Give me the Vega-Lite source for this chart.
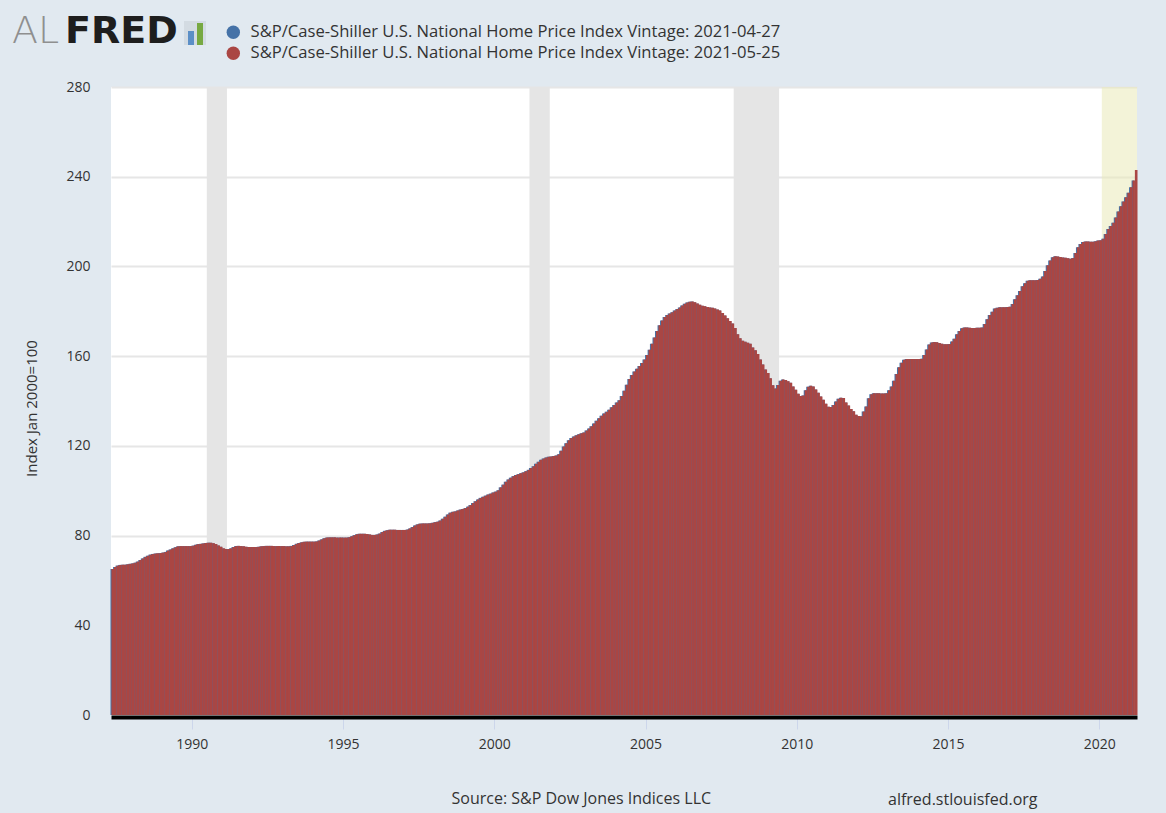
{
  "$schema": "https://vega.github.io/schema/vega-lite/v6.json",
  "width": 1026,
  "height": 628,
  "autosize": "none",
  "padding": {"left": 111, "top": 87, "right": 29, "bottom": 98},
  "background": "#e1e9f0",
  "view": {"fill": "#ffffff", "stroke": null},
  "config": {"font": "Open Sans"},
  "datasets": {
    "rec": [
      {"start": "1990-07-01", "end": "1991-03-01"},
      {"start": "2001-03-01", "end": "2001-11-01"},
      {"start": "2007-12-01", "end": "2009-06-01"}
    ],
    "cur": [{"start": "2020-02-01", "end": "2021-04-01"}],
    "hpi": [
      {"date":"1987-05-01","a":65.1,"b":65.1},{"date":"1987-06-01","a":66.0,"b":66.0},{"date":"1987-07-01","a":66.6,"b":66.6},{"date":"1987-08-01","a":66.9,"b":66.9},{"date":"1987-09-01","a":67.0,"b":67.0},{"date":"1987-10-01","a":67.0,"b":67.0},{"date":"1987-11-01","a":67.2,"b":67.2},{"date":"1987-12-01","a":67.4,"b":67.4},
      {"date":"1988-01-01","a":67.6,"b":67.6},{"date":"1988-02-01","a":67.9,"b":67.9},{"date":"1988-03-01","a":68.4,"b":68.4},{"date":"1988-04-01","a":69.1,"b":69.1},{"date":"1988-05-01","a":69.8,"b":69.8},{"date":"1988-06-01","a":70.5,"b":70.5},{"date":"1988-07-01","a":71.0,"b":71.0},{"date":"1988-08-01","a":71.5,"b":71.5},{"date":"1988-09-01","a":71.8,"b":71.8},{"date":"1988-10-01","a":72.0,"b":72.0},{"date":"1988-11-01","a":72.1,"b":72.1},{"date":"1988-12-01","a":72.2,"b":72.2},
      {"date":"1989-01-01","a":72.4,"b":72.4},{"date":"1989-02-01","a":72.7,"b":72.7},{"date":"1989-03-01","a":73.3,"b":73.3},{"date":"1989-04-01","a":73.8,"b":73.8},{"date":"1989-05-01","a":74.3,"b":74.3},{"date":"1989-06-01","a":74.8,"b":74.8},{"date":"1989-07-01","a":75.2,"b":75.2},{"date":"1989-08-01","a":75.3,"b":75.3},{"date":"1989-09-01","a":75.3,"b":75.3},{"date":"1989-10-01","a":75.3,"b":75.3},{"date":"1989-11-01","a":75.3,"b":75.3},{"date":"1989-12-01","a":75.3,"b":75.3},
      {"date":"1990-01-01","a":75.5,"b":75.5},{"date":"1990-02-01","a":75.9,"b":75.9},{"date":"1990-03-01","a":76.2,"b":76.2},{"date":"1990-04-01","a":76.3,"b":76.3},{"date":"1990-05-01","a":76.5,"b":76.5},{"date":"1990-06-01","a":76.7,"b":76.7},{"date":"1990-07-01","a":76.8,"b":76.8},{"date":"1990-08-01","a":76.8,"b":76.8},{"date":"1990-09-01","a":76.6,"b":76.6},{"date":"1990-10-01","a":76.2,"b":76.2},{"date":"1990-11-01","a":75.6,"b":75.6},{"date":"1990-12-01","a":75.0,"b":75.0},
      {"date":"1991-01-01","a":74.3,"b":74.3},{"date":"1991-02-01","a":74.0,"b":74.0},{"date":"1991-03-01","a":74.0,"b":74.0},{"date":"1991-04-01","a":74.3,"b":74.3},{"date":"1991-05-01","a":74.9,"b":74.9},{"date":"1991-06-01","a":75.3,"b":75.3},{"date":"1991-07-01","a":75.4,"b":75.4},{"date":"1991-08-01","a":75.3,"b":75.3},{"date":"1991-09-01","a":75.2,"b":75.2},{"date":"1991-10-01","a":75.0,"b":75.0},{"date":"1991-11-01","a":74.9,"b":74.9},{"date":"1991-12-01","a":74.9,"b":74.9},
      {"date":"1992-01-01","a":74.9,"b":74.9},{"date":"1992-02-01","a":74.9,"b":74.9},{"date":"1992-03-01","a":75.0,"b":75.0},{"date":"1992-04-01","a":75.2,"b":75.2},{"date":"1992-05-01","a":75.3,"b":75.3},{"date":"1992-06-01","a":75.4,"b":75.4},{"date":"1992-07-01","a":75.4,"b":75.4},{"date":"1992-08-01","a":75.4,"b":75.4},{"date":"1992-09-01","a":75.3,"b":75.3},{"date":"1992-10-01","a":75.3,"b":75.3},{"date":"1992-11-01","a":75.3,"b":75.3},{"date":"1992-12-01","a":75.3,"b":75.3},
      {"date":"1993-01-01","a":75.3,"b":75.3},{"date":"1993-02-01","a":75.2,"b":75.2},{"date":"1993-03-01","a":75.2,"b":75.2},{"date":"1993-04-01","a":75.4,"b":75.4},{"date":"1993-05-01","a":75.8,"b":75.8},{"date":"1993-06-01","a":76.3,"b":76.3},{"date":"1993-07-01","a":76.7,"b":76.7},{"date":"1993-08-01","a":77.0,"b":77.0},{"date":"1993-09-01","a":77.2,"b":77.2},{"date":"1993-10-01","a":77.3,"b":77.3},{"date":"1993-11-01","a":77.3,"b":77.3},{"date":"1993-12-01","a":77.3,"b":77.3},
      {"date":"1994-01-01","a":77.3,"b":77.3},{"date":"1994-02-01","a":77.4,"b":77.4},{"date":"1994-03-01","a":77.8,"b":77.8},{"date":"1994-04-01","a":78.3,"b":78.3},{"date":"1994-05-01","a":78.8,"b":78.8},{"date":"1994-06-01","a":79.1,"b":79.1},{"date":"1994-07-01","a":79.2,"b":79.2},{"date":"1994-08-01","a":79.2,"b":79.2},{"date":"1994-09-01","a":79.2,"b":79.2},{"date":"1994-10-01","a":79.1,"b":79.1},{"date":"1994-11-01","a":79.1,"b":79.1},{"date":"1994-12-01","a":79.1,"b":79.1},
      {"date":"1995-01-01","a":79.1,"b":79.1},{"date":"1995-02-01","a":79.1,"b":79.1},{"date":"1995-03-01","a":79.3,"b":79.3},{"date":"1995-04-01","a":79.7,"b":79.7},{"date":"1995-05-01","a":80.2,"b":80.2},{"date":"1995-06-01","a":80.6,"b":80.6},{"date":"1995-07-01","a":80.8,"b":80.8},{"date":"1995-08-01","a":80.8,"b":80.8},{"date":"1995-09-01","a":80.8,"b":80.8},{"date":"1995-10-01","a":80.7,"b":80.7},{"date":"1995-11-01","a":80.5,"b":80.5},{"date":"1995-12-01","a":80.3,"b":80.3},
      {"date":"1996-01-01","a":80.3,"b":80.3},{"date":"1996-02-01","a":80.5,"b":80.5},{"date":"1996-03-01","a":80.9,"b":80.9},{"date":"1996-04-01","a":81.6,"b":81.6},{"date":"1996-05-01","a":82.1,"b":82.1},{"date":"1996-06-01","a":82.4,"b":82.4},{"date":"1996-07-01","a":82.6,"b":82.6},{"date":"1996-08-01","a":82.6,"b":82.6},{"date":"1996-09-01","a":82.6,"b":82.6},{"date":"1996-10-01","a":82.5,"b":82.5},{"date":"1996-11-01","a":82.5,"b":82.5},{"date":"1996-12-01","a":82.5,"b":82.5},
      {"date":"1997-01-01","a":82.5,"b":82.5},{"date":"1997-02-01","a":82.7,"b":82.7},{"date":"1997-03-01","a":83.2,"b":83.2},{"date":"1997-04-01","a":83.8,"b":83.8},{"date":"1997-05-01","a":84.5,"b":84.5},{"date":"1997-06-01","a":85.0,"b":85.0},{"date":"1997-07-01","a":85.3,"b":85.3},{"date":"1997-08-01","a":85.4,"b":85.4},{"date":"1997-09-01","a":85.4,"b":85.4},{"date":"1997-10-01","a":85.4,"b":85.4},{"date":"1997-11-01","a":85.5,"b":85.5},{"date":"1997-12-01","a":85.7,"b":85.7},
      {"date":"1998-01-01","a":86.0,"b":86.0},{"date":"1998-02-01","a":86.2,"b":86.2},{"date":"1998-03-01","a":86.7,"b":86.7},{"date":"1998-04-01","a":87.5,"b":87.5},{"date":"1998-05-01","a":88.4,"b":88.4},{"date":"1998-06-01","a":89.4,"b":89.4},{"date":"1998-07-01","a":90.2,"b":90.2},{"date":"1998-08-01","a":90.6,"b":90.6},{"date":"1998-09-01","a":90.8,"b":90.8},{"date":"1998-10-01","a":91.2,"b":91.2},{"date":"1998-11-01","a":91.6,"b":91.6},{"date":"1998-12-01","a":91.9,"b":91.9},
      {"date":"1999-01-01","a":92.3,"b":92.3},{"date":"1999-02-01","a":92.9,"b":92.9},{"date":"1999-03-01","a":93.6,"b":93.6},{"date":"1999-04-01","a":94.5,"b":94.5},{"date":"1999-05-01","a":95.3,"b":95.3},{"date":"1999-06-01","a":96.1,"b":96.1},{"date":"1999-07-01","a":96.8,"b":96.8},{"date":"1999-08-01","a":97.3,"b":97.3},{"date":"1999-09-01","a":97.8,"b":97.8},{"date":"1999-10-01","a":98.3,"b":98.3},{"date":"1999-11-01","a":98.7,"b":98.7},{"date":"1999-12-01","a":99.2,"b":99.2},
      {"date":"2000-01-01","a":99.6,"b":99.6},{"date":"2000-02-01","a":100.2,"b":100.2},{"date":"2000-03-01","a":101.5,"b":101.5},{"date":"2000-04-01","a":102.7,"b":102.7},{"date":"2000-05-01","a":104.0,"b":104.0},{"date":"2000-06-01","a":105.0,"b":105.0},{"date":"2000-07-01","a":105.8,"b":105.8},{"date":"2000-08-01","a":106.5,"b":106.5},{"date":"2000-09-01","a":107.0,"b":107.0},{"date":"2000-10-01","a":107.4,"b":107.4},{"date":"2000-11-01","a":107.8,"b":107.8},{"date":"2000-12-01","a":108.2,"b":108.2},
      {"date":"2001-01-01","a":108.7,"b":108.7},{"date":"2001-02-01","a":109.3,"b":109.3},{"date":"2001-03-01","a":110.1,"b":110.1},{"date":"2001-04-01","a":110.9,"b":110.9},{"date":"2001-05-01","a":112.0,"b":112.0},{"date":"2001-06-01","a":112.9,"b":112.9},{"date":"2001-07-01","a":113.8,"b":113.8},{"date":"2001-08-01","a":114.4,"b":114.4},{"date":"2001-09-01","a":114.8,"b":114.8},{"date":"2001-10-01","a":115.1,"b":115.1},{"date":"2001-11-01","a":115.3,"b":115.3},{"date":"2001-12-01","a":115.5,"b":115.5},
      {"date":"2002-01-01","a":115.7,"b":115.7},{"date":"2002-02-01","a":116.3,"b":116.3},{"date":"2002-03-01","a":117.8,"b":117.8},{"date":"2002-04-01","a":119.7,"b":119.7},{"date":"2002-05-01","a":121.2,"b":121.2},{"date":"2002-06-01","a":122.5,"b":122.5},{"date":"2002-07-01","a":123.5,"b":123.5},{"date":"2002-08-01","a":124.2,"b":124.2},{"date":"2002-09-01","a":124.7,"b":124.7},{"date":"2002-10-01","a":125.2,"b":125.2},{"date":"2002-11-01","a":125.6,"b":125.6},{"date":"2002-12-01","a":126.0,"b":126.0},
      {"date":"2003-01-01","a":126.8,"b":126.8},{"date":"2003-02-01","a":127.7,"b":127.7},{"date":"2003-03-01","a":128.7,"b":128.7},{"date":"2003-04-01","a":130.0,"b":130.0},{"date":"2003-05-01","a":131.2,"b":131.2},{"date":"2003-06-01","a":132.3,"b":132.3},{"date":"2003-07-01","a":133.4,"b":133.4},{"date":"2003-08-01","a":134.4,"b":134.4},{"date":"2003-09-01","a":135.2,"b":135.2},{"date":"2003-10-01","a":136.1,"b":136.1},{"date":"2003-11-01","a":137.2,"b":137.2},{"date":"2003-12-01","a":138.2,"b":138.2},
      {"date":"2004-01-01","a":139.3,"b":139.3},{"date":"2004-02-01","a":140.3,"b":140.3},{"date":"2004-03-01","a":142.2,"b":142.2},{"date":"2004-04-01","a":144.6,"b":144.6},{"date":"2004-05-01","a":147.3,"b":147.3},{"date":"2004-06-01","a":149.8,"b":149.8},{"date":"2004-07-01","a":151.6,"b":151.6},{"date":"2004-08-01","a":153.1,"b":153.1},{"date":"2004-09-01","a":154.4,"b":154.4},{"date":"2004-10-01","a":155.6,"b":155.6},{"date":"2004-11-01","a":156.9,"b":156.9},{"date":"2004-12-01","a":158.5,"b":158.5},
      {"date":"2005-01-01","a":160.5,"b":160.5},{"date":"2005-02-01","a":162.8,"b":162.8},{"date":"2005-03-01","a":165.5,"b":165.5},{"date":"2005-04-01","a":168.3,"b":168.3},{"date":"2005-05-01","a":171.2,"b":171.2},{"date":"2005-06-01","a":173.8,"b":173.8},{"date":"2005-07-01","a":175.9,"b":175.9},{"date":"2005-08-01","a":177.4,"b":177.4},{"date":"2005-09-01","a":178.3,"b":178.3},{"date":"2005-10-01","a":179.0,"b":179.0},{"date":"2005-11-01","a":179.6,"b":179.6},{"date":"2005-12-01","a":180.3,"b":180.3},
      {"date":"2006-01-01","a":181.0,"b":181.0},{"date":"2006-02-01","a":181.7,"b":181.7},{"date":"2006-03-01","a":182.6,"b":182.6},{"date":"2006-04-01","a":183.4,"b":183.4},{"date":"2006-05-01","a":183.9,"b":183.9},{"date":"2006-06-01","a":184.3,"b":184.3},{"date":"2006-07-01","a":184.4,"b":184.4},{"date":"2006-08-01","a":184.0,"b":184.0},{"date":"2006-09-01","a":183.5,"b":183.5},{"date":"2006-10-01","a":182.9,"b":182.9},{"date":"2006-11-01","a":182.5,"b":182.5},{"date":"2006-12-01","a":182.2,"b":182.2},
      {"date":"2007-01-01","a":181.9,"b":181.9},{"date":"2007-02-01","a":181.7,"b":181.7},{"date":"2007-03-01","a":181.6,"b":181.6},{"date":"2007-04-01","a":181.2,"b":181.2},{"date":"2007-05-01","a":180.8,"b":180.8},{"date":"2007-06-01","a":180.3,"b":180.3},{"date":"2007-07-01","a":179.2,"b":179.2},{"date":"2007-08-01","a":178.1,"b":178.1},{"date":"2007-09-01","a":176.9,"b":176.9},{"date":"2007-10-01","a":175.7,"b":175.7},{"date":"2007-11-01","a":174.5,"b":174.5},{"date":"2007-12-01","a":172.6,"b":172.6},
      {"date":"2008-01-01","a":169.8,"b":169.8},{"date":"2008-02-01","a":168.0,"b":168.0},{"date":"2008-03-01","a":166.9,"b":166.9},{"date":"2008-04-01","a":166.4,"b":166.4},{"date":"2008-05-01","a":166.0,"b":166.0},{"date":"2008-06-01","a":165.5,"b":165.5},{"date":"2008-07-01","a":163.9,"b":163.9},{"date":"2008-08-01","a":162.6,"b":162.6},{"date":"2008-09-01","a":161.0,"b":161.0},{"date":"2008-10-01","a":158.5,"b":158.5},{"date":"2008-11-01","a":156.3,"b":156.3},{"date":"2008-12-01","a":154.0,"b":154.0},
      {"date":"2009-01-01","a":152.5,"b":152.5},{"date":"2009-02-01","a":150.1,"b":150.1},{"date":"2009-03-01","a":147.0,"b":147.0},{"date":"2009-04-01","a":145.6,"b":145.6},{"date":"2009-05-01","a":147.1,"b":147.1},{"date":"2009-06-01","a":149.0,"b":149.0},{"date":"2009-07-01","a":149.6,"b":149.6},{"date":"2009-08-01","a":149.4,"b":149.4},{"date":"2009-09-01","a":148.8,"b":148.8},{"date":"2009-10-01","a":148.1,"b":148.1},{"date":"2009-11-01","a":146.5,"b":146.5},{"date":"2009-12-01","a":145.0,"b":145.0},
      {"date":"2010-01-01","a":143.2,"b":143.2},{"date":"2010-02-01","a":142.2,"b":142.2},{"date":"2010-03-01","a":142.4,"b":142.4},{"date":"2010-04-01","a":144.8,"b":144.8},{"date":"2010-05-01","a":146.4,"b":146.4},{"date":"2010-06-01","a":146.8,"b":146.8},{"date":"2010-07-01","a":146.5,"b":146.5},{"date":"2010-08-01","a":145.1,"b":145.1},{"date":"2010-09-01","a":143.7,"b":143.7},{"date":"2010-10-01","a":142.0,"b":142.0},{"date":"2010-11-01","a":140.6,"b":140.6},{"date":"2010-12-01","a":138.8,"b":138.8},
      {"date":"2011-01-01","a":137.4,"b":137.4},{"date":"2011-02-01","a":137.3,"b":137.3},{"date":"2011-03-01","a":138.2,"b":138.2},{"date":"2011-04-01","a":139.8,"b":139.8},{"date":"2011-05-01","a":141.0,"b":141.0},{"date":"2011-06-01","a":141.5,"b":141.5},{"date":"2011-07-01","a":141.3,"b":141.3},{"date":"2011-08-01","a":139.3,"b":139.3},{"date":"2011-09-01","a":138.0,"b":138.0},{"date":"2011-10-01","a":136.4,"b":136.4},{"date":"2011-11-01","a":135.4,"b":135.4},{"date":"2011-12-01","a":133.9,"b":133.9},
      {"date":"2012-01-01","a":133.3,"b":133.3},{"date":"2012-02-01","a":133.2,"b":133.2},{"date":"2012-03-01","a":135.3,"b":135.3},{"date":"2012-04-01","a":137.5,"b":137.5},{"date":"2012-05-01","a":141.2,"b":141.2},{"date":"2012-06-01","a":143.0,"b":143.0},{"date":"2012-07-01","a":143.5,"b":143.5},{"date":"2012-08-01","a":143.5,"b":143.5},{"date":"2012-09-01","a":143.4,"b":143.4},{"date":"2012-10-01","a":143.3,"b":143.3},{"date":"2012-11-01","a":143.3,"b":143.3},{"date":"2012-12-01","a":143.4,"b":143.4},
      {"date":"2013-01-01","a":144.8,"b":144.8},{"date":"2013-02-01","a":146.5,"b":146.5},{"date":"2013-03-01","a":149.0,"b":149.0},{"date":"2013-04-01","a":152.0,"b":152.0},{"date":"2013-05-01","a":155.0,"b":155.0},{"date":"2013-06-01","a":157.0,"b":157.0},{"date":"2013-07-01","a":158.4,"b":158.4},{"date":"2013-08-01","a":158.7,"b":158.7},{"date":"2013-09-01","a":158.7,"b":158.7},{"date":"2013-10-01","a":158.7,"b":158.7},{"date":"2013-11-01","a":158.7,"b":158.7},{"date":"2013-12-01","a":158.7,"b":158.7},
      {"date":"2014-01-01","a":158.7,"b":158.7},{"date":"2014-02-01","a":158.8,"b":158.8},{"date":"2014-03-01","a":160.5,"b":160.5},{"date":"2014-04-01","a":163.0,"b":163.0},{"date":"2014-05-01","a":165.2,"b":165.2},{"date":"2014-06-01","a":166.1,"b":166.1},{"date":"2014-07-01","a":166.3,"b":166.3},{"date":"2014-08-01","a":166.2,"b":166.2},{"date":"2014-09-01","a":165.9,"b":165.9},{"date":"2014-10-01","a":165.5,"b":165.5},{"date":"2014-11-01","a":165.3,"b":165.3},{"date":"2014-12-01","a":165.3,"b":165.3},
      {"date":"2015-01-01","a":165.4,"b":165.4},{"date":"2015-02-01","a":166.5,"b":166.5},{"date":"2015-03-01","a":167.8,"b":167.8},{"date":"2015-04-01","a":169.8,"b":169.8},{"date":"2015-05-01","a":171.2,"b":171.2},{"date":"2015-06-01","a":172.4,"b":172.4},{"date":"2015-07-01","a":172.8,"b":172.8},{"date":"2015-08-01","a":172.8,"b":172.8},{"date":"2015-09-01","a":172.7,"b":172.7},{"date":"2015-10-01","a":172.6,"b":172.6},{"date":"2015-11-01","a":172.6,"b":172.6},{"date":"2015-12-01","a":172.7,"b":172.7},
      {"date":"2016-01-01","a":172.7,"b":172.7},{"date":"2016-02-01","a":172.8,"b":172.8},{"date":"2016-03-01","a":174.3,"b":174.3},{"date":"2016-04-01","a":176.5,"b":176.5},{"date":"2016-05-01","a":178.3,"b":178.3},{"date":"2016-06-01","a":179.8,"b":179.8},{"date":"2016-07-01","a":181.2,"b":181.2},{"date":"2016-08-01","a":181.6,"b":181.6},{"date":"2016-09-01","a":181.8,"b":181.8},{"date":"2016-10-01","a":181.8,"b":181.8},{"date":"2016-11-01","a":181.8,"b":181.8},{"date":"2016-12-01","a":181.9,"b":181.9},
      {"date":"2017-01-01","a":182.0,"b":182.0},{"date":"2017-02-01","a":183.2,"b":183.2},{"date":"2017-03-01","a":185.4,"b":185.4},{"date":"2017-04-01","a":187.2,"b":187.2},{"date":"2017-05-01","a":189.0,"b":189.0},{"date":"2017-06-01","a":191.2,"b":191.2},{"date":"2017-07-01","a":192.5,"b":192.5},{"date":"2017-08-01","a":193.6,"b":193.6},{"date":"2017-09-01","a":193.8,"b":193.8},{"date":"2017-10-01","a":193.8,"b":193.8},{"date":"2017-11-01","a":193.8,"b":193.8},{"date":"2017-12-01","a":194.0,"b":194.0},
      {"date":"2018-01-01","a":194.5,"b":194.5},{"date":"2018-02-01","a":195.5,"b":195.5},{"date":"2018-03-01","a":198.0,"b":198.0},{"date":"2018-04-01","a":200.5,"b":200.5},{"date":"2018-05-01","a":202.6,"b":202.6},{"date":"2018-06-01","a":204.1,"b":204.1},{"date":"2018-07-01","a":204.5,"b":204.5},{"date":"2018-08-01","a":204.4,"b":204.4},{"date":"2018-09-01","a":204.2,"b":204.2},{"date":"2018-10-01","a":204.0,"b":204.0},{"date":"2018-11-01","a":203.9,"b":203.9},{"date":"2018-12-01","a":203.6,"b":203.6},
      {"date":"2019-01-01","a":203.4,"b":203.4},{"date":"2019-02-01","a":203.8,"b":203.8},{"date":"2019-03-01","a":206.0,"b":206.0},{"date":"2019-04-01","a":208.5,"b":208.5},{"date":"2019-05-01","a":210.0,"b":210.0},{"date":"2019-06-01","a":210.9,"b":210.9},{"date":"2019-07-01","a":211.1,"b":211.1},{"date":"2019-08-01","a":211.1,"b":211.1},{"date":"2019-09-01","a":211.0,"b":211.0},{"date":"2019-10-01","a":211.0,"b":211.0},{"date":"2019-11-01","a":211.2,"b":211.2},{"date":"2019-12-01","a":211.6,"b":211.6},
      {"date":"2020-01-01","a":211.7,"b":211.7},{"date":"2020-02-01","a":212.3,"b":212.3},{"date":"2020-03-01","a":214.5,"b":214.5},{"date":"2020-04-01","a":216.7,"b":216.7},{"date":"2020-05-01","a":218.0,"b":218.0},{"date":"2020-06-01","a":219.5,"b":219.5},{"date":"2020-07-01","a":221.8,"b":221.8},{"date":"2020-08-01","a":224.5,"b":224.5},{"date":"2020-09-01","a":226.8,"b":226.8},{"date":"2020-10-01","a":229.0,"b":229.0},{"date":"2020-11-01","a":230.8,"b":230.8},{"date":"2020-12-01","a":232.8,"b":232.8},
      {"date":"2021-01-01","a":235.3,"b":235.3},{"date":"2021-02-01","a":238.3,"b":238.3},{"date":"2021-03-01","a":null,"b":243.0}
    ]
  },
  "layer": [
    {
      "data": {"name": "rec"},
      "mark": {"type": "rect", "color": "#e5e5e5"},
      "encoding": {
        "x": {"field": "start", "type": "temporal", "title": "Source: S&P Dow Jones Indices LLC"},
        "x2": {"field": "end"}
      }
    },
    {
      "data": {"name": "cur"},
      "mark": {"type": "rect", "color": "#eaeab8", "opacity": 0.55},
      "encoding": {
        "x": {"field": "start", "type": "temporal", "title": "Source: S&P Dow Jones Indices LLC"},
        "x2": {"field": "end"}
      }
    },
    {
      "data": {"name": "hpi"},
      "transform": [
        {"fold": ["a", "b"], "as": ["vintage", "value"]},
        {"filter": "datum.vintage == 'a' && datum.value != null"}
      ],
      "mark": {"type": "bar", "x2Offset": -1.52},
      "encoding": {
        "x": {
          "field": "date", "timeUnit": "utcyearmonth", "type": "temporal",
          "title": "Source: S&P Dow Jones Indices LLC",
          "scale": {"type": "utc", "domain": [{"year": 1987, "month": 5, "date": 1, "utc": true}, {"year": 2021, "month": 4, "date": 1, "utc": true}]},
          "axis": {
            "format": "%Y", "tickCount": {"interval": "year", "step": 5},
            "grid": false, "domainColor": "#000000", "domainWidth": 4, "offset": 2,
            "tickColor": "#ccd6eb", "tickSize": 12, "tickWidth": 1,
            "labelFont": "Open Sans", "labelFontSize": 14, "labelColor": "#333333", "labelPadding": 8,
            "titleFont": "Open Sans", "titleFontSize": 16, "titleFontWeight": "normal", "titleColor": "#333333",
            "titleAnchor": "start", "titleAlign": "left", "titleX": 340, "titleY": 86, "titleBaseline": "alphabetic"
          }
        },
        "y": {
          "field": "value", "type": "quantitative",
          "title": "Index Jan 2000=100",
          "scale": {"domain": [0, 280]},
          "axis": {
            "values": [0, 40, 80, 120, 160, 200, 240, 280],
            "domain": false, "ticks": false, "grid": true, "gridColor": "#e6e6e6", "gridWidth": 2,
            "labelFont": "Open Sans", "labelFontSize": 14, "labelColor": "#333333", "labelPadding": 21,
            "titleFont": "Open Sans", "titleFontSize": 15, "titleFontWeight": "normal", "titleColor": "#333333", "titlePadding": 26, "titleY": 321
          }
        },
        "color": {
          "field": "vintage", "type": "nominal",
          "scale": {"domain": ["a", "b"], "range": ["#4572a7", "#aa4643"]},
          "legend": {
            "orient": "none", "legendX": 114, "legendY": -63, "title": null,
            "symbolType": "circle", "symbolSize": 180, "symbolStrokeWidth": 0,
            "labelFont": "Open Sans", "labelFontSize": 16.6, "labelColor": "#333333",
            "labelOffset": 9, "rowPadding": 4, "labelLimit": 900,
            "labelExpr": "datum.label == 'a' ? 'S&P/Case-Shiller U.S. National Home Price Index Vintage: 2021-04-27' : 'S&P/Case-Shiller U.S. National Home Price Index Vintage: 2021-05-25'"
          }
        }
      }
    },
    {
      "data": {"name": "hpi"},
      "transform": [
        {"fold": ["a", "b"], "as": ["vintage", "value"]},
        {"filter": "datum.vintage == 'b' && datum.value != null"}
      ],
      "mark": {"type": "bar", "xOffset": 0.5, "x2Offset": -0.55},
      "encoding": {
        "x": {"field": "date", "timeUnit": "utcyearmonth", "type": "temporal", "title": "Source: S&P Dow Jones Indices LLC"},
        "y": {"field": "value", "type": "quantitative", "title": "Index Jan 2000=100"},
        "color": {"field": "vintage", "type": "nominal"}
      }
    },
    {
      "data": {"values": [{"t": "AL"}]},
      "mark": {"type": "text", "x": -99, "y": -44, "align": "left", "baseline": "alphabetic", "font": "DejaVu Sans", "fontWeight": 200, "fontSize": 38, "letterSpacing": 2, "color": "#8f8f8f"},
      "encoding": {"text": {"field": "t"}}
    },
    {
      "data": {"values": [{"t": "FRED"}]},
      "mark": {"type": "text", "x": -46, "y": -44, "align": "left", "baseline": "alphabetic", "font": "DejaVu Sans", "fontWeight": "bold", "fontSize": 38, "color": "#1e1e1e"},
      "encoding": {"text": {"field": "t"}}
    },
    {
      "data": {"values": [{"t": "icon"}]},
      "mark": {"type": "rect", "x": 73, "x2": 95, "y": -66, "y2": -42, "color": "#d3dbe2"},
      "encoding": {}
    },
    {
      "data": {"values": [{"t": "icon"}]},
      "mark": {"type": "rect", "x": 77, "x2": 83, "y": -56, "y2": -42, "color": "#5b8fc7"},
      "encoding": {}
    },
    {
      "data": {"values": [{"t": "icon"}]},
      "mark": {"type": "rect", "x": 86, "x2": 92, "y": -64, "y2": -42, "color": "#77a942"},
      "encoding": {}
    },
    {
      "data": {"values": [{"t": "alfred.stlouisfed.org"}]},
      "mark": {"type": "text", "x": 777, "y": 718, "align": "left", "baseline": "alphabetic", "font": "Open Sans", "fontSize": 16, "color": "#333333"},
      "encoding": {"text": {"field": "t"}}
    }
  ]
}
